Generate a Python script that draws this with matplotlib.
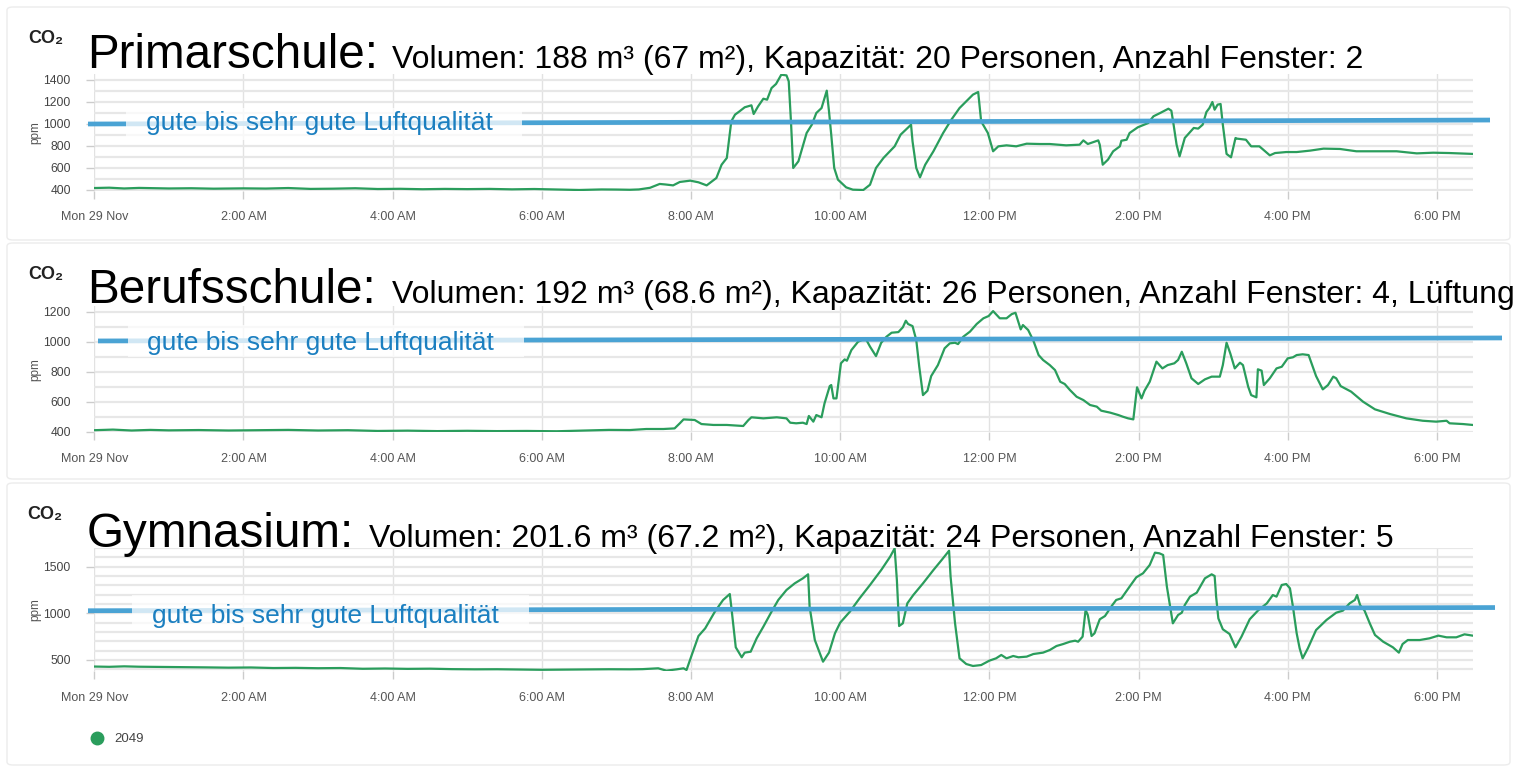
import matplotlib
matplotlib.use('Agg')
import matplotlib.pyplot as plt
from matplotlib.lines import Line2D
from matplotlib.patches import Rectangle, FancyBboxPatch
from matplotlib.ticker import MultipleLocator

# ---------------- data ----------------
tick_hours = [0, 2, 4, 6, 8, 10, 12, 14, 16, 18]
tick_labels = ["Mon 29 Nov", "2:00 AM", "4:00 AM", "6:00 AM", "8:00 AM",
               "10:00 AM", "12:00 PM", "2:00 PM", "4:00 PM", "6:00 PM"]
series_name = "2049"
threshold_label = "gute bis sehr gute Luftqualität"

titles = ["Primarschule:", "Berufsschule:", "Gymnasium:"]
subtitles = [
    "Volumen: 188 m³ (67 m²), Kapazität: 20 Personen, Anzahl Fenster: 2",
    "Volumen: 192 m³ (68.6 m²), Kapazität: 26 Personen, Anzahl Fenster: 4, Lüftung",
    "Volumen: 201.6 m³ (67.2 m²), Kapazität: 24 Personen, Anzahl Fenster: 5",
]

prim_h = [0, 0.2, 0.4, 0.6, 0.8, 1.0, 1.3, 1.6, 2.0, 2.3, 2.6, 2.9, 3.2, 3.5, 3.8, 4.1, 4.4, 4.7,
          5.0, 5.3, 5.6, 5.9, 6.2, 6.5, 6.8, 7.0, 7.18, 7.3, 7.45, 7.58, 7.66, 7.76, 7.85, 7.99,
          8.1, 8.21, 8.34, 8.41, 8.48, 8.54, 8.59, 8.65, 8.72, 8.81, 8.84, 8.9, 8.97, 9.02, 9.08,
          9.14, 9.21, 9.28, 9.31, 9.34, 9.37, 9.44, 9.55, 9.62, 9.68, 9.75, 9.82, 9.85, 9.88, 9.92,
          9.97, 10.08, 10.17, 10.31, 10.4, 10.48, 10.58, 10.73, 10.81, 10.95, 10.97, 11.02, 11.07,
          11.14, 11.25, 11.38, 11.49, 11.6, 11.69, 11.78, 11.85, 11.89, 11.98, 12.05, 12.12, 12.23,
          12.36, 12.5, 12.68, 12.81, 13.03, 13.21, 13.26, 13.32, 13.46, 13.48, 13.52, 13.59, 13.66,
          13.75, 13.77, 13.84, 13.88, 13.99, 14.13, 14.2, 14.29, 14.4, 14.44, 14.47, 14.51, 14.55,
          14.62, 14.74, 14.8, 14.86, 14.91, 14.95, 14.99, 15.02, 15.06, 15.1, 15.13, 15.18, 15.24,
          15.3, 15.32, 15.44, 15.51, 15.62, 15.76, 15.83, 15.98, 16.12, 16.3, 16.48, 16.7, 16.92,
          17.19, 17.46, 17.73, 17.95, 18.17, 18.48]
prim_ppm = [418, 421, 414, 419, 416, 414, 416, 412, 415, 413, 418, 410, 412, 416, 409, 411, 407, 410,
            408, 410, 406, 409, 404, 400, 405, 404, 402, 405, 420, 455, 450, 442, 473, 485,
            470, 442, 509, 630, 691, 1024, 1085, 1115, 1152, 1170, 1091, 1161, 1230, 1221, 1327,
            1364, 1448, 1442, 1388, 1024, 600, 661, 918, 994, 1100, 1145, 1303, 1115, 903, 600,
            494, 424, 403, 400, 448, 600, 691, 797, 903, 994, 842, 600, 515,
            630, 752, 918, 1039, 1145, 1206, 1267, 1291, 1024, 918, 752, 797, 806,
            797, 821, 818, 818, 806, 812, 851, 818, 851, 812, 630, 676, 752,
            797, 848, 857, 918, 970, 1009, 1070, 1100, 1139, 1121, 994, 812, 706,
            873, 964, 958, 994, 1109, 1145, 1200, 1130, 1176, 1182, 994, 728, 697,
            873, 867, 857, 797, 797, 715, 736, 745, 745, 758, 776, 773, 752,
            752, 752, 733, 739, 736, 728]

beruf_h = [0, 0.25, 0.5, 0.75, 1.0, 1.4, 1.8, 2.2, 2.6, 3.0, 3.4, 3.8, 4.2, 4.6, 5.0, 5.4, 5.8, 6.2,
           6.6, 6.9, 7.18, 7.4, 7.63, 7.78, 7.85, 7.9, 8.05, 8.14, 8.3, 8.48, 8.7, 8.77, 8.81, 8.97,
           9.15, 9.28, 9.33, 9.41, 9.5, 9.55, 9.58, 9.64, 9.68, 9.75, 9.79, 9.86, 9.88, 9.91, 9.95,
           10.01, 10.06, 10.09, 10.15, 10.24, 10.34, 10.4, 10.48, 10.55, 10.62, 10.69, 10.78, 10.84,
           10.88, 10.91, 10.97, 11.02, 11.06, 11.11, 11.17, 11.22, 11.31, 11.4, 11.47, 11.54, 11.58,
           11.65, 11.74, 11.83, 11.92, 11.99, 12.05, 12.14, 12.23, 12.3, 12.35, 12.42, 12.45, 12.52,
           12.59, 12.66, 12.72, 12.81, 12.88, 12.95, 13.01, 13.08, 13.17, 13.26, 13.35, 13.44, 13.5,
           13.62, 13.73, 13.79, 13.86, 13.93, 13.98, 14.04, 14.08, 14.15, 14.24, 14.32, 14.39, 14.48,
           14.53, 14.58, 14.64, 14.71, 14.8, 14.89, 14.98, 15.09, 15.13, 15.18, 15.23, 15.29, 15.36,
           15.4, 15.47, 15.51, 15.58, 15.6, 15.65, 15.68, 15.76, 15.85, 15.92, 16.0, 16.07, 16.12,
           16.2, 16.28, 16.38, 16.47, 16.54, 16.61, 16.65, 16.71, 16.85, 17.01, 17.17, 17.37, 17.59,
           17.81, 17.99, 18.13, 18.17, 18.35, 18.48]
beruf_ppm = [410, 414, 408, 412, 409, 411, 408, 410, 412, 408, 410, 405, 407, 404, 406, 404, 405, 403,
             408, 412, 411, 418, 418, 422, 456, 482, 478, 451, 445, 445, 438, 478, 496, 489,
             496, 489, 460, 456, 460, 451, 505, 467, 511, 496, 589, 704, 711, 622, 622,
             856, 882, 873, 944, 1000, 1022, 967, 904, 993, 1033, 1060, 1064, 1096,
             1140, 1118, 1104, 1011, 833, 644, 673, 771, 844, 956, 989, 993, 984,
             1033, 1067, 1118, 1156, 1171, 1204, 1156, 1156, 1184, 1193, 1082, 1111, 1078,
             1007, 911, 878, 844, 811, 733, 718, 678, 633, 611, 578, 567, 540,
             527, 511, 500, 489, 482, 696, 622, 673, 733, 867, 822, 844, 856,
             878, 933, 856, 756, 718, 749, 767, 767, 844, 993, 922, 822, 860,
             844, 700, 644, 629, 816, 807, 711, 756, 822, 833, 889, 896, 911,
             916, 911, 771, 682, 711, 767, 756, 704, 667, 600, 549, 518, 489,
             473, 467, 473, 456, 451, 445]

gym_h = [0, 0.2, 0.4, 0.6, 0.9, 1.2, 1.5, 1.8, 2.1, 2.4, 2.7, 3.0, 3.3, 3.6, 3.9, 4.2, 4.5, 4.8,
         5.1, 5.4, 5.7, 6.0, 6.3, 6.6, 6.9, 7.18, 7.35, 7.56, 7.67, 7.81, 7.9, 7.94, 8.01, 8.1,
         8.19, 8.32, 8.43, 8.52, 8.54, 8.6, 8.68, 8.72, 8.8, 8.88, 8.97, 9.08, 9.17, 9.28, 9.39,
         9.5, 9.57, 9.59, 9.66, 9.72, 9.77, 9.85, 9.93, 10.0, 10.13, 10.26, 10.4, 10.55, 10.67,
         10.73, 10.76, 10.79, 10.84, 10.9, 10.98, 11.11, 11.25, 11.36, 11.46, 11.48, 11.54, 11.6,
         11.69, 11.78, 11.89, 12.0, 12.09, 12.16, 12.23, 12.32, 12.39, 12.5, 12.59, 12.72, 12.81,
         12.9, 12.99, 13.08, 13.15, 13.19, 13.25, 13.29, 13.32, 13.37, 13.41, 13.48, 13.55, 13.64,
         13.7, 13.77, 13.88, 13.97, 14.06, 14.15, 14.22, 14.28, 14.33, 14.38, 14.46, 14.53, 14.58,
         14.62, 14.69, 14.78, 14.89, 14.98, 15.02, 15.04, 15.07, 15.13, 15.22, 15.3, 15.38, 15.49,
         15.6, 15.72, 15.8, 15.85, 15.92, 15.98, 16.03, 16.07, 16.12, 16.16, 16.2, 16.27, 16.38,
         16.52, 16.65, 16.74, 16.83, 16.9, 16.93, 16.97, 17.03, 17.1, 17.17, 17.28, 17.41, 17.49,
         17.54, 17.61, 17.77, 17.9, 18.02, 18.13, 18.26, 18.37, 18.48]
gym_ppm = [430, 427, 432, 428, 426, 424, 421, 418, 420, 414, 416, 412, 414, 406, 409, 405, 407, 402,
           400, 401, 398, 395, 397, 399, 401, 400, 402, 411, 386, 400, 411, 393, 554, 757,
           839, 1018, 1143, 1207, 1071, 636, 529, 579, 589, 732, 857, 1018, 1143, 1250, 1321,
           1375, 1418, 1071, 714, 589, 482, 579, 786, 900, 1018, 1161, 1304, 1464, 1607,
           1696, 1357, 864, 893, 1107, 1196, 1321, 1464, 1571, 1671, 1393, 893, 518,
           457, 436, 446, 493, 518, 554, 518, 543, 529, 536, 564, 579, 607,
           650, 671, 696, 707, 696, 750, 1036, 982, 757, 786, 936, 971, 1079,
           1143, 1161, 1286, 1386, 1429, 1518, 1650, 1643, 1625, 1286, 893, 982, 1007,
           1089, 1179, 1221, 1375, 1418, 1400, 1179, 946, 829, 779, 636, 750, 936,
           1029, 1107, 1196, 1179, 1304, 1314, 1268, 1071, 786, 625, 518, 625, 821,
           929, 1007, 1029, 1107, 1143, 1196, 1089, 1029, 893, 768, 696, 636, 579,
           671, 714, 714, 732, 761, 743, 743, 775, 761]

# threshold annotation line (ppm at left end / right end, as drawn)
threshold_left = [1000, 1005, 1028]
threshold_right = [1036, 1025, 1062]

# ---------------- styling / layout ----------------
W, H = 1519, 769
fig = plt.figure(figsize=(W / 100, H / 100), dpi=100)
fig.patch.set_facecolor('white')

def fx(x):
    return x / W

def fy(y):
    return 1 - y / H

GREEN = '#2a9d5c'
BLUE = '#4aa3d4'
BLUE_TXT = '#1b7fc0'
FONT = ['Liberation Sans', 'DejaVu Sans']

panels = [
    dict(h=prim_h, v=prim_ppm, ylim=(395, 1455), major=200, top=73.95, bottom=190.55,
         card=(7, 7, 240), co2=(28, 39), base=68, sub_x=392,
         line_x=(88, 1490), box=(126, 522, 124), txt=(146, 130)),
    dict(h=beruf_h, v=beruf_ppm, ylim=(395, 1240), major=200, top=305.7, bottom=432.45,
         card=(7, 243, 479), co2=(28, 275), base=303, sub_x=392,
         line_x=(98, 1502), box=(128, 524, 341), txt=(147, 350)),
    dict(h=gym_h, v=gym_ppm, ylim=(380, 1700), major=500, top=548, bottom=671.2,
         card=(7, 483, 765), co2=(27, 514), base=547, sub_x=369,
         line_x=(88, 1495), box=(132, 529, 611), txt=(152, 623)),
]

AX_L, AX_R = 94.3, 1472.7
xmax = 18.48
px_per_h = (AX_R - AX_L) / xmax

for i, p in enumerate(panels):
    c = p['card']
    fig.add_artist(FancyBboxPatch((fx(c[0]), fy(c[2])), fx(1510 - c[0]), (c[2] - c[1]) / H,
                                  boxstyle='round,pad=0,rounding_size=0.004',
                                  transform=fig.transFigure, facecolor='white',
                                  edgecolor='#ececec', lw=1.0, zorder=-5))
    ax = fig.add_axes([fx(AX_L), fy(p['bottom']), (AX_R - AX_L) / W, (p['bottom'] - p['top']) / H])
    ax.set_facecolor('none')
    ax.plot(p['h'], p['v'], color=GREEN, lw=1.6, zorder=3, solid_joinstyle='round')
    ax.set_xlim(0, xmax)
    ax.set_ylim(*p['ylim'])
    for s in ax.spines.values():
        s.set_visible(False)
    ax.set_xticks(tick_hours)
    ax.set_xticklabels(tick_labels)
    ax.yaxis.set_major_locator(MultipleLocator(p['major']))
    ax.yaxis.set_minor_locator(MultipleLocator(100))
    ax.tick_params(axis='x', length=6, width=1, color='#cccccc', pad=9,
                   labelsize=9, labelcolor='#555555')
    ax.tick_params(axis='y', which='major', length=6, width=1, color='#cccccc', pad=11,
                   labelsize=8.7, labelcolor='#444444')
    ax.tick_params(axis='y', which='minor', length=0)
    for lab in ax.get_xticklabels() + ax.get_yticklabels():
        lab.set_family(FONT)
    ax.grid(axis='y', which='both', color='#e7e7e7', lw=1.6, zorder=0)
    ax.grid(axis='x', which='major', color='#e2e2e2', lw=1.0, zorder=0)
    ax.set_axisbelow(True)
    ax.set_ylabel('ppm', fontsize=8.5, color='#555555', family=FONT)
    ax.yaxis.set_label_coords((41 - AX_L) / (AX_R - AX_L), 0.5)

    # threshold annotation line
    x0 = (p['line_x'][0] - AX_L) / px_per_h
    x1 = (p['line_x'][1] - AX_L) / px_per_h
    ax.plot([x0, x1], [threshold_left[i], threshold_right[i]], color=BLUE, lw=3.4,
            solid_capstyle='butt', clip_on=False, zorder=4)
    bx0, bx1, by = p['box']
    fig.add_artist(Rectangle((fx(bx0), fy(by + 16)), (bx1 - bx0) / W, 32 / H,
                             transform=fig.transFigure, facecolor='white', alpha=0.75,
                             edgecolor='none', zorder=5))
    fig.text(fx(p['txt'][0]), fy(p['txt'][1]), threshold_label, fontsize=19, color=BLUE_TXT,
             family=FONT, va='baseline', ha='left', zorder=6)

    # header texts
    fig.text(fx(p['co2'][0]), fy(p['co2'][1]), 'CO₂', fontsize=13, fontweight='bold',
             color='#222222', family=FONT, va='center', ha='left')
    fig.text(fx(87), fy(p['base']), titles[i], fontsize=34.3, color='black', family=FONT,
             va='baseline', ha='left')
    fig.text(fx(p['sub_x']), fy(p['base']), subtitles[i], fontsize=23, color='black',
             family=FONT, va='baseline', ha='left')

# legend
fig.legend(handles=[Line2D([], [], marker='o', color=GREEN, linestyle='None', markersize=9)],
           labels=[series_name], loc='center left', bbox_to_anchor=(fx(72), fy(739)),
           frameon=False, handletextpad=0.3, prop={'family': FONT, 'size': 9.5},
           labelcolor='#444444')

fig.savefig('out.png', dpi=100, facecolor='white')
